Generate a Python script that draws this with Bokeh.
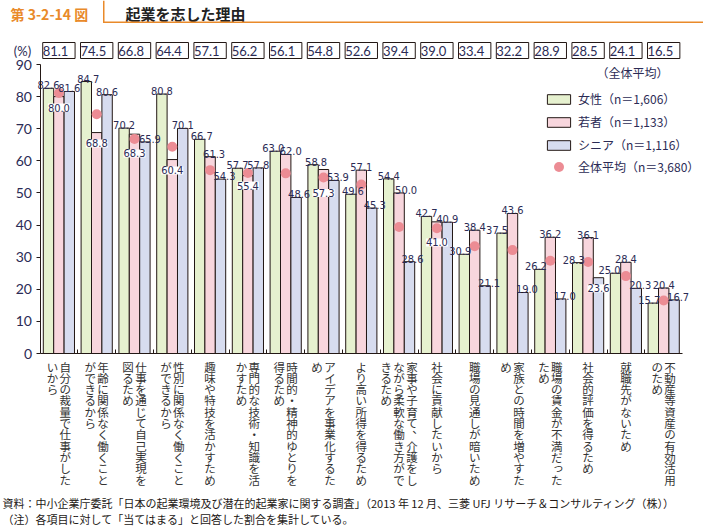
from bokeh.plotting import figure
from bokeh.models import (ColumnDataSource, LabelSet, Label, Legend, LegendItem,
                          FixedTicker, BoxAnnotation, Range1d)
from bokeh.transform import dodge
from bokeh.core.properties import value
from bokeh.embed import file_html
from bokeh.resources import INLINE

# ---------------- data ----------------
categories = [
    "自分の裁量で仕事がしたいから",
    "年齢に関係なく働くことができるから",
    "仕事を通じて自己実現を図るため",
    "性別に関係なく働くことができるから",
    "趣味や特技を活かすため",
    "専門的な技術・知識を活かすため",
    "時間的・精神的ゆとりを得るため",
    "アイデアを事業化するため",
    "より高い所得を得るため",
    "家事や子育て、介護をしながら柔軟な働き方ができるため",
    "社会に貢献したいから",
    "職場の見通しが暗いため",
    "家族との時間を増やすため",
    "職場の賃金が不満だったため",
    "社会的評価を得るため",
    "就職先がないため",
    "不動産等資産の有効活用のため",
]
female = [82.6, 84.7, 70.2, 80.8, 66.7, 57.7, 63.0, 58.8, 49.6, 54.4, 42.7, 30.9, 37.5, 26.2, 28.3, 25.0, 15.7]
young = [80.0, 68.8, 68.3, 60.4, 61.3, 55.4, 62.0, 57.3, 57.1, 50.0, 41.0, 38.4, 43.6, 36.2, 36.1, 28.4, 20.4]
senior = [81.6, 80.6, 65.9, 70.1, 54.3, 57.8, 48.6, 53.9, 45.3, 28.6, 40.9, 21.1, 19.0, 17.0, 23.6, 20.3, 16.7]
overall = [81.1, 74.5, 66.8, 64.4, 57.1, 56.2, 56.1, 54.8, 52.6, 39.4, 39.0, 33.4, 32.2, 28.9, 28.5, 24.1, 16.5]
legend_labels = ["女性（n＝1,606）", "若者（n＝1,133）", "シニア（n＝1,116）", "全体平均（n＝3,680）"]
y_ticks = [0, 10, 20, 30, 40, 50, 60, 70, 80, 90]
header_no = "第 3-2-14 図"
title_text = "起業を志した理由"
unit_text = "(%)"
avg_text = "（全体平均）"
source_text = "資料：中小企業庁委託「日本の起業環境及び潜在的起業家に関する調査」（2013 年 12 月、三菱 UFJ リサーチ＆コンサルティング（株））"
note_text = "（注）各項目に対して「当てはまる」と回答した割合を集計している。"

# ---------------- layout / style ----------------
W, H = 703, 526
AX_LEFT = 39.5      # canvas x of the y axis
GROUP = 37.8        # px per category
Y0 = 353.0          # canvas y of value 0
YMAX = 90
UNIT = 289.0 / YMAX  # px per value unit
n = len(categories)
bw = 0.275

C_F, C_Y, C_S = "#E6F1CF", "#F8D6DD", "#D7DCEF"
DOT = "#EC8C94"
EDGE = "#231815"
TXT = "#2B2B55"
ORANGE = "#E98A2A"
CJK = "Noto Sans CJK JP"
NUM = "'Liberation Sans Narrow', 'DejaVu Sans Condensed', 'Roboto Condensed', sans-serif"

x0 = -0.5 - AX_LEFT / GROUP
x1 = -0.5 + (W - AX_LEFT) / GROUP
y_lo = -(H - Y0) / UNIT
y_hi = Y0 / UNIT

p = figure(width=W, height=H, min_border=0, title=None,
           x_range=Range1d(x0, x1), y_range=Range1d(y_lo, y_hi),
           output_backend="svg", toolbar_location=None,
           background_fill_color="white", border_fill_color="white")
p.outline_line_color = None
p.grid.visible = False

src = ColumnDataSource(dict(x=list(range(n)), female=female, young=young,
                            senior=senior, overall=overall))
rf = p.vbar(x=dodge("x", -bw), top="female", width=bw, source=src,
            fill_color=C_F, line_color=EDGE, line_width=1)
ry = p.vbar(x="x", top="young", width=bw, source=src,
            fill_color=C_Y, line_color=EDGE, line_width=1)
rs = p.vbar(x=dodge("x", bw), top="senior", width=bw, source=src,
            fill_color=C_S, line_color=EDGE, line_width=1)
rd = p.scatter(x="x", y="overall", size=10, source=src, fill_color=DOT, line_color=None)

# value labels (positions / nudges are style, values come from the series)
inside = {("young", 0): 76.6, ("young", 1): 65.4, ("young", 2): 62.3, ("young", 3): 57.0,
          ("young", 5): 52.3, ("young", 7): 50.0, ("young", 10): 34.6, ("senior", 14): 20.3}
shift_px = {("female", 1): 2, ("senior", 2): 5, ("female", 4): 2, ("young", 4): 4,
            ("senior", 4): 4, ("female", 6): -2, ("young", 6): 5, ("senior", 6): 3,
            ("female", 7): 3, ("senior", 7): 4, ("female", 8): 2, ("senior", 8): 3,
            ("young", 9): 7, ("senior", 9): 3, ("female", 11): -4, ("senior", 11): 4,
            ("female", 12): -5, ("senior", 12): 4, ("female", 13): -4, ("senior", 13): 4,
            ("female", 14): -4, ("female", 15): -6, ("senior", 15): 4,
            ("female", 16): -4, ("senior", 16): 4}
series = [("female", female, -bw), ("young", young, 0.0), ("senior", senior, bw)]
ab = dict(x=[], y=[], t=[], dx=[])
ins = dict(x=[], y=[], t=[])
for name, vals, off in series:
    for i, v in enumerate(vals):
        key = (name, i)
        if key in inside:
            ins["x"].append(i + off); ins["y"].append(inside[key]); ins["t"].append(f"{v:.1f}")
        else:
            ab["x"].append(i + off); ab["y"].append(v); ab["t"].append(f"{v:.1f}")
            ab["dx"].append(shift_px.get(key, 0))

p.text(x="x", y="y", text="t", x_offset="dx", y_offset=-3, source=ColumnDataSource(ab),
       text_align="center", text_baseline="alphabetic", text_font=value(NUM),
       text_font_size="11px", text_color=TXT)

p.add_layout(LabelSet(x="x", y="y", text="t", source=ColumnDataSource(ins),
                      text_align="center", text_baseline="middle", text_font=value(NUM),
                      text_font_size="11px", text_color=TXT, background_fill_color="white"))

# boxed overall values above the plot
box_src = ColumnDataSource(dict(x=list(range(n)), y=[YMAX + 14 / UNIT] * n,
                                t=[f"{v:.1f}" for v in overall]))
try:
    ls_box = LabelSet(x="x", y="y", text="t", source=box_src, text_align="center",
                      text_baseline="middle", text_font=value("Lato"), text_font_size="13px",
                      text_color=TXT, background_fill_color="white",
                      border_line_color=EDGE, border_line_width=1, padding=3)
except Exception:
    box_src.data["t"] = [f" {v:.1f} " for v in overall]
    ls_box = LabelSet(x="x", y="y", text="t", source=box_src, text_align="center",
                      text_baseline="middle", text_font=value("Lato"), text_font_size="13px",
                      text_color=TXT, background_fill_color="white",
                      border_line_color=EDGE, border_line_width=1)
p.add_layout(ls_box)

# vertical (tategaki) category labels, wrapped into columns read right to left
CH_PER_COL = 11
COL_PITCH = 12.8
ROW_PITCH = 11.3
FIRST = 13
vl = dict(x=[], y=[], t=[], dx=[])
for i, cat in enumerate(categories):
    cols = [cat[k:k + CH_PER_COL] for k in range(0, len(cat), CH_PER_COL)]
    nc = len(cols)
    for j, col in enumerate(cols):
        xo = ((nc - 1) / 2 - j) * COL_PITCH
        for r, ch in enumerate(col):
            dx, dy = 0, 0
            if ch in "、。":
                dx, dy = 6, 6
            elif ch in "っゃゅょ":
                dx, dy = 1.5, 1.5
            vl["x"].append(i); vl["dx"].append(xo + dx)
            vl["y"].append(-(FIRST + r * ROW_PITCH - dy) / UNIT); vl["t"].append(ch)
p.add_layout(LabelSet(x="x", y="y", text="t", x_offset="dx", source=ColumnDataSource(vl),
                      text_align="center", text_baseline="middle", text_font=value(CJK),
                      text_font_size="11.5px", text_color="#333333"))

# axes (fixed inside the full-canvas frame)
p.yaxis.fixed_location = -0.5
p.yaxis.bounds = (0, YMAX)
p.yaxis.ticker = FixedTicker(ticks=y_ticks)
p.yaxis.major_tick_out = 4
p.yaxis.major_tick_in = 0
p.yaxis.minor_tick_out = 0
p.yaxis.minor_tick_in = 0
p.yaxis.major_label_standoff = 4
p.yaxis.major_label_text_font = "Lato"
p.yaxis.major_label_text_font_size = "14px"
p.yaxis.major_label_text_color = TXT
p.yaxis.axis_line_color = EDGE
p.yaxis.major_tick_line_color = EDGE

# x axis: only small upward ticks at the category boundaries (minor ticks, no labels)
p.xaxis.fixed_location = 0
p.xaxis.bounds = (-0.5, n - 0.5)
p.xaxis.ticker = FixedTicker(ticks=[], minor_ticks=[i + 0.5 for i in range(n - 1)])
p.xaxis.major_tick_in = 0
p.xaxis.major_tick_out = 0
p.xaxis.minor_tick_in = 4
p.xaxis.minor_tick_out = 0
p.xaxis.axis_line_color = EDGE
p.xaxis.minor_tick_line_color = EDGE

# legends (bars, then the dot with a taller glyph box so the marker is larger)
leg_common = dict(glyph_width=29, label_height=12, padding=0, margin=0,
                  background_fill_alpha=0, border_line_color=None,
                  label_text_font=CJK, label_text_font_size="12px",
                  label_standoff=5, label_text_color=TXT)
leg1 = Legend(items=[LegendItem(label=l, renderers=[r]) for l, r in
                     zip(legend_labels[:3], [rf, ry, rs])],
              location=(544, H - 153), glyph_height=12, spacing=6, **leg_common)
leg2 = Legend(items=[LegendItem(label=legend_labels[3], renderers=[rd])],
              location=(544, H - 178.5), glyph_height=25, **leg_common)
p.add_layout(leg1)
p.add_layout(leg2)


def clabel(text, cx, cy, size, color, font=CJK, style="normal", align="left"):
    p.add_layout(Label(x=cx, y=H - cy, x_units="screen", y_units="screen",
                       text=text, text_font=font, text_font_size=size, text_color=color,
                       text_font_style=style, text_align=align, text_baseline="middle"))


clabel(header_no, 10, 13, "14px", ORANGE, style="bold")
clabel(title_text, 125, 13, "15px", "#222222", style="bold")
clabel(unit_text, 22, 50, "13px", TXT, font="Lato", align="center")
clabel(avg_text, 632, 72, "12px", TXT, align="center")
clabel(source_text, 2, 502, "11px", "#231815")
clabel(note_text, 2, 518, "11px", "#231815")

# header rules
for l, r, t, b in [(102.5, 104, 0, 22.5), (102.5, W, 21, 22.5)]:
    p.add_layout(BoxAnnotation(left=l, right=r, top=H - t, bottom=H - b,
                               left_units="screen", right_units="screen",
                               top_units="screen", bottom_units="screen",
                               fill_color=ORANGE, fill_alpha=1, line_color=None))

open("out.html", "w").write(file_html(p, INLINE))
